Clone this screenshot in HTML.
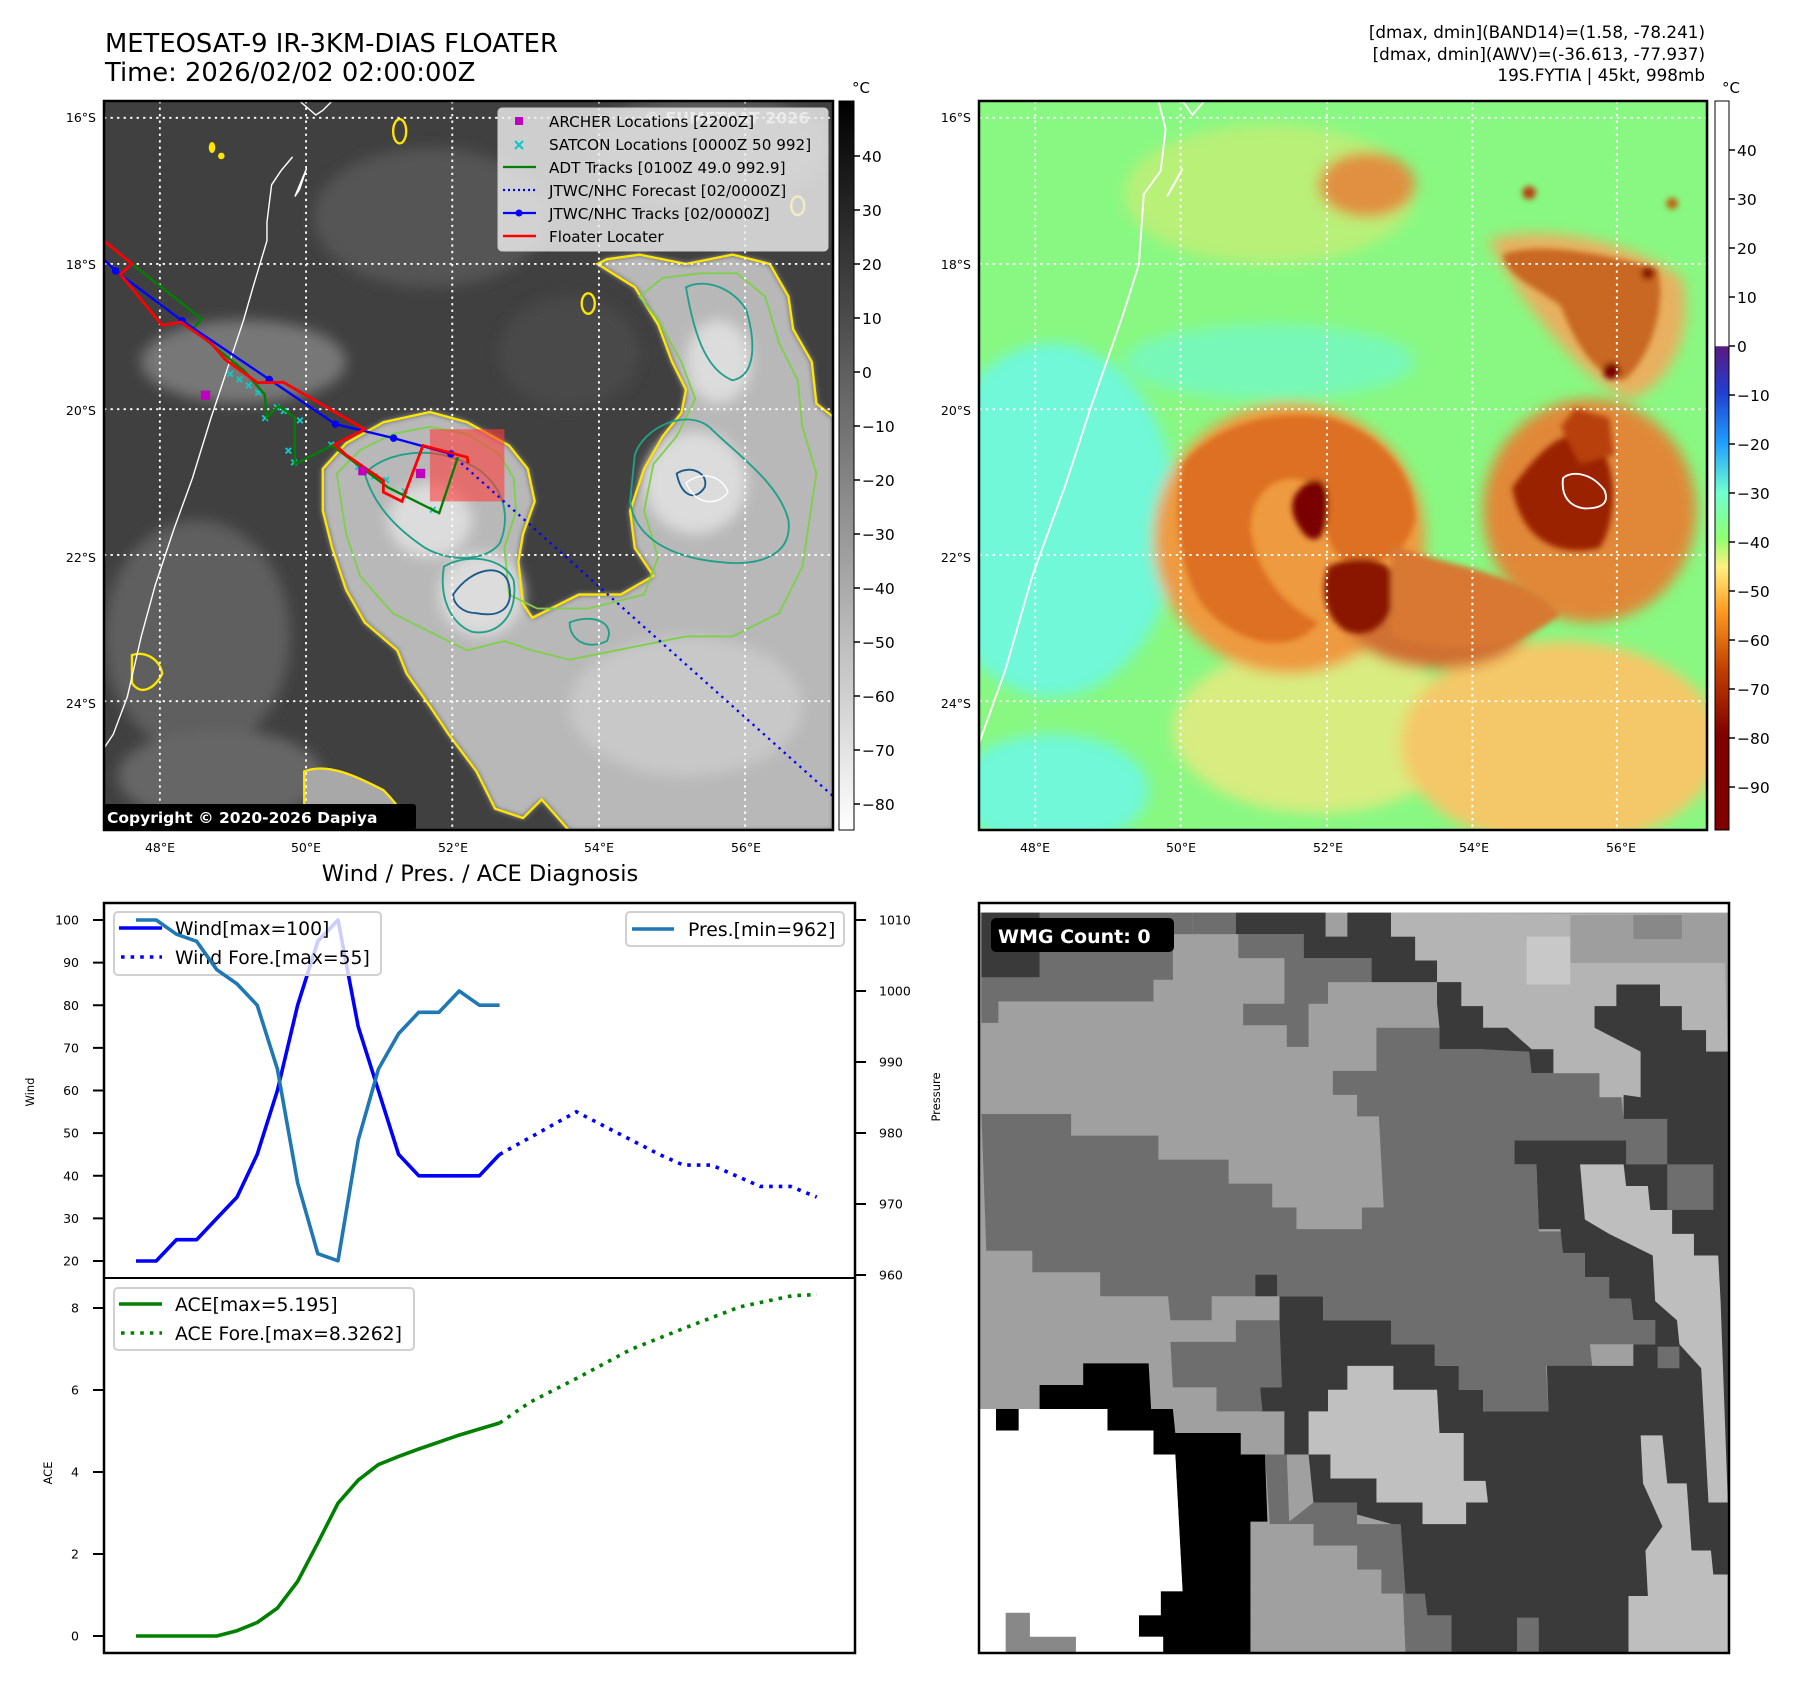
<!DOCTYPE html>
<html><head><meta charset="utf-8"><style>
html,body{margin:0;padding:0;background:#fff;}
svg{display:block;font-family:"DejaVu Sans","Liberation Sans",sans-serif;}
</style></head><body>
<svg id="root" width="1797" height="1690" viewBox="0 0 1797 1690" xmlns="http://www.w3.org/2000/svg">
<defs>
  <clipPath id="c1"><rect x="0" y="0" width="1568" height="1568"/></clipPath>
  <clipPath id="c2"><rect x="0" y="0" width="1505" height="1568"/></clipPath>
  <clipPath id="c3"><rect x="0" y="0" width="1548" height="1565"/></clipPath>
  <filter id="bl" x="-20%" y="-20%" width="140%" height="140%"><feGaussianBlur stdDeviation="14"/></filter>
  <filter id="bl2" x="-20%" y="-20%" width="140%" height="140%"><feGaussianBlur stdDeviation="6"/></filter>
  <linearGradient id="cb1" x1="0" y1="0" x2="0" y2="1">
    <stop offset="0" stop-color="#000"/><stop offset="1" stop-color="#fff"/>
  </linearGradient>
  <linearGradient id="cb2" x1="0" y1="0" x2="0" y2="1">
    <stop offset="0" stop-color="#fff"/><stop offset="0.336" stop-color="#fff"/>
    <stop offset="0.337" stop-color="#5a1a80"/><stop offset="0.40" stop-color="#2040d0"/>
    <stop offset="0.47" stop-color="#20a0ff"/><stop offset="0.537" stop-color="#70ffd0"/>
    <stop offset="0.60" stop-color="#90ff70"/><stop offset="0.64" stop-color="#fff080"/>
    <stop offset="0.70" stop-color="#ff9a20"/><stop offset="0.78" stop-color="#c04000"/>
    <stop offset="0.87" stop-color="#800000"/><stop offset="1" stop-color="#800000"/>
  </linearGradient>
</defs>

<!-- Titles -->
<text x="105" y="52" font-size="25.8" fill="#000">METEOSAT-9 IR-3KM-DIAS FLOATER</text>
<text x="105" y="81" font-size="25.8" fill="#000">Time: 2026/02/02 02:00:00Z</text>
<g font-size="16.8" text-anchor="end" fill="#000">
  <text x="1705" y="38">[dmax, dmin](BAND14)=(1.58, -78.241)</text>
  <text x="1705" y="60">[dmax, dmin](AWV)=(-36.613, -77.937)</text>
  <text x="1705" y="81">19S.FYTIA | 45kt, 998mb</text>
</g>

<!-- MAP 1 -->
<g transform="translate(104,101) scale(0.4656)">
 <g clip-path="url(#c1)">
  <rect x="0" y="0" width="1568" height="1568" fill="#404040"/>
  <g filter="url(#bl)">
    <ellipse cx="300" cy="560" rx="220" ry="90" fill="#777"/>
    <ellipse cx="200" cy="1150" rx="200" ry="250" fill="#5e5e5e"/>
    <ellipse cx="700" cy="250" rx="250" ry="150" fill="#555"/>
    <ellipse cx="1300" cy="100" rx="250" ry="120" fill="#595959"/>
    <ellipse cx="1000" cy="540" rx="150" ry="120" fill="#4a4a4a"/>
    <ellipse cx="250" cy="1450" rx="220" ry="100" fill="#666"/>
  </g>
  <polygon fill="#b8b8b8" filter="url(#bl2)" points="470,790 520,735 600,690 700,668 780,690 870,740 910,790 925,860 900,930 890,990 900,1080 920,1110 1020,1060 1110,1060 1180,1020 1140,960 1130,880 1160,790 1200,720 1240,670 1250,620 1220,560 1190,480 1140,400 1060,350 1080,340 1150,330 1250,350 1350,330 1430,350 1470,420 1480,490 1520,560 1530,650 1568,680 1568,1568 1000,1568 940,1500 900,1540 840,1520 800,1440 740,1360 700,1300 650,1230 630,1180 560,1120 520,1050 490,960 470,880"/>
  <g filter="url(#bl)" fill="#dcdcdc">
    <ellipse cx="700" cy="900" rx="90" ry="80"/>
    <ellipse cx="810" cy="1060" rx="90" ry="90"/>
    <ellipse cx="1270" cy="820" rx="110" ry="110"/>
    <ellipse cx="1320" cy="560" rx="70" ry="90"/>
    <ellipse cx="1250" cy="1300" rx="250" ry="150" fill="#c8c8c8"/>
  </g>
  <polygon fill="none" stroke="#ffe600" stroke-width="5" points="470,790 520,735 600,690 700,668 780,690 870,740 910,790 925,860 900,930 890,990 900,1080 920,1110 1020,1060 1110,1060 1180,1020 1140,960 1130,880 1160,790 1200,720 1240,670 1250,620 1220,560 1190,480 1140,400 1060,350 1080,340 1150,330 1250,350 1350,330 1430,350 1470,420 1480,490 1520,560 1530,650 1568,680 1568,1568 1000,1568 940,1500 900,1540 840,1520 800,1440 740,1360 700,1300 650,1230 630,1180 560,1120 520,1050 490,960 470,880"/>
  <polygon fill="none" stroke="#7ed04a" stroke-width="4" points="500,800 550,750 620,715 700,700 780,715 850,760 880,810 885,880 860,960 870,1060 930,1090 1040,1090 1160,1060 1190,980 1160,880 1180,780 1230,720 1270,640 1240,560 1190,470 1150,420 1200,380 1280,370 1360,370 1420,420 1450,520 1490,600 1500,700 1530,800 1500,1000 1450,1100 1350,1150 1250,1150 1100,1180 1000,1200 920,1180 860,1160 780,1180 700,1140 620,1100 550,1020 520,930"/>
  <g fill="none" stroke="#20a088" stroke-width="4">
    <path d="M560,800 C600,760 680,740 760,770 C850,800 880,880 850,950 C820,990 740,990 690,960 C630,920 580,870 560,800 Z"/>
    <path d="M1140,760 C1160,700 1250,660 1300,700 C1360,760 1450,820 1470,900 C1480,980 1400,1000 1320,990 C1220,980 1140,940 1130,860 Z"/>
    <path d="M730,1000 C780,970 860,980 880,1030 C890,1100 850,1150 790,1140 C740,1120 720,1060 730,1000 Z"/>
    <path d="M1250,400 C1290,380 1350,400 1380,450 C1400,520 1400,590 1350,600 C1300,580 1270,520 1250,400 Z"/>
    <path d="M1000,1120 C1050,1100 1100,1120 1080,1160 C1040,1180 1000,1160 1000,1120 Z"/>
  </g>
  <g fill="none" stroke="#1a5a8a" stroke-width="4">
    <path d="M750,1060 C790,1000 860,990 870,1040 C880,1090 850,1110 800,1100 C770,1100 750,1080 750,1060 Z"/>
    <path d="M1230,800 C1260,780 1300,800 1290,830 C1270,860 1240,850 1230,800 Z"/>
  </g>
  <path d="M1250,820 C1290,790 1330,810 1340,840 C1320,870 1270,870 1250,820 Z" fill="none" stroke="#fff" stroke-width="3"/>
  <g fill="#ffe600">
    <ellipse cx="232" cy="100" rx="7" ry="12"/><ellipse cx="252" cy="118" rx="7" ry="7"/>
    <ellipse cx="635" cy="65" rx="14" ry="26" fill="none" stroke="#ffe600" stroke-width="5"/>
    <ellipse cx="1040" cy="435" rx="14" ry="22" fill="none" stroke="#ffe600" stroke-width="5"/>
    <ellipse cx="1490" cy="225" rx="14" ry="20" fill="none" stroke="#ffe600" stroke-width="5"/>
  </g>
  <path d="M430,1440 C480,1420 540,1450 600,1480 C640,1520 660,1560 660,1568 L430,1568 Z" fill="#a8a8a8" stroke="#ffe600" stroke-width="5"/>
  <path d="M60,1190 C90,1180 120,1200 125,1230 C110,1260 80,1280 60,1250 Z" fill="none" stroke="#ffe600" stroke-width="5"/>
  <path d="M490,0 L470,20 L455,30 L420,0 M405,120 L380,150 L360,180 L350,260 L350,300 L320,400 L300,470 L260,590 L230,680 L190,810 L150,920 L110,1040 L80,1150 L50,1280 L20,1360 L0,1390" fill="none" stroke="#fff" stroke-width="3"/>
  <path d="M435,145 L410,205 L420,190 Z" fill="none" stroke="#fff" stroke-width="3"/>
  <g stroke="#fff" stroke-width="4" stroke-dasharray="5 9">
    <line x1="120" y1="0" x2="120" y2="1568"/><line x1="434" y1="0" x2="434" y2="1568"/>
    <line x1="748" y1="0" x2="748" y2="1568"/><line x1="1063" y1="0" x2="1063" y2="1568"/>
    <line x1="1377" y1="0" x2="1377" y2="1568"/>
    <line x1="0" y1="36" x2="1568" y2="36"/><line x1="0" y1="350" x2="1568" y2="350"/>
    <line x1="0" y1="662" x2="1568" y2="662"/><line x1="0" y1="975" x2="1568" y2="975"/>
    <line x1="0" y1="1289" x2="1568" y2="1289"/>
  </g>
  <rect x="700" y="705" width="160" height="155" fill="rgba(255,60,60,0.6)"/>
  <polyline points="745,758 1568,1495" fill="none" stroke="#0000ff" stroke-width="5" stroke-dasharray="5 10"/>
  <g stroke="#10c8c8" stroke-width="4">
    <path d="M265,580 l12,12 m0,-12 l-12,12 M285,592 l12,12 m0,-12 l-12,12 M305,605 l12,12 m0,-12 l-12,12 M325,620 l12,12 m0,-12 l-12,12 M340,675 l12,12 m0,-12 l-12,12 M365,652 l12,12 m0,-12 l-12,12 M380,660 l12,12 m0,-12 l-12,12 M415,680 l12,12 m0,-12 l-12,12 M390,745 l12,12 m0,-12 l-12,12 M402,770 l12,12 m0,-12 l-12,12 M482,732 l12,12 m0,-12 l-12,12 M540,780 l12,12 m0,-12 l-12,12 M575,800 l12,12 m0,-12 l-12,12 M600,808 l12,12 m0,-12 l-12,12 M640,832 l12,12 m0,-12 l-12,12 M700,872 l12,12 m0,-12 l-12,12"/>
  </g>
  <polyline points="35,372 60,350 210,468 190,490 300,578 345,630 350,680 375,655 410,680 410,780 490,740 610,830 720,885 760,765" fill="none" stroke="#008000" stroke-width="5"/>
  <polyline points="0,340 25,365 168,472 355,598 497,694 622,724 745,758" fill="none" stroke="#0000ff" stroke-width="5"/>
  <g fill="#0000ff"><circle cx="25" cy="365" r="8"/><circle cx="168" cy="472" r="8"/><circle cx="355" cy="598" r="8"/><circle cx="497" cy="694" r="8"/><circle cx="622" cy="724" r="8"/><circle cx="745" cy="758" r="8"/></g>
  <polyline points="0,300 60,350 35,372 125,482 165,475 230,520 260,555 330,605 385,604 560,705 495,738 520,760 600,815 600,840 640,860 685,740 780,765 782,778" fill="none" stroke="#ff0000" stroke-width="6"/>
  <g fill="#c000c0"><rect x="208" y="622" width="20" height="20"/><rect x="546" y="786" width="18" height="18"/><rect x="670" y="790" width="20" height="20"/></g>
  <text x="1160" y="48" font-size="34" font-weight="bold" fill="rgba(255,255,255,0.75)">© EUMETSAT 2026</text>
 </g>
</g>
<rect x="104" y="101" width="729" height="729" fill="none" stroke="#000" stroke-width="2.5"/>

<g>
  <rect x="498" y="108" width="330" height="143" rx="4" fill="rgba(238,238,238,0.82)" stroke="#ccc" stroke-width="1"/>
  <rect x="515" y="117" width="8" height="8" fill="#c000c0"/>
  <path d="M515,141 l8,8 m0,-8 l-8,8" stroke="#10c8c8" stroke-width="2.2"/>
  <line x1="503" y1="167" x2="536" y2="167" stroke="#008000" stroke-width="2.2"/>
  <line x1="503" y1="190" x2="536" y2="190" stroke="#0000ff" stroke-width="2.2" stroke-dasharray="2 3"/>
  <line x1="503" y1="213" x2="536" y2="213" stroke="#0000ff" stroke-width="2.2"/><circle cx="519" cy="213" r="3.5" fill="#0000ff"/>
  <line x1="503" y1="236" x2="536" y2="236" stroke="#ff0000" stroke-width="2.5"/>
  <g font-size="15.2" fill="#000">
    <text x="549" y="127">ARCHER Locations [2200Z]</text>
    <text x="549" y="150">SATCON Locations [0000Z 50 992]</text>
    <text x="549" y="173">ADT Tracks [0100Z 49.0 992.9]</text>
    <text x="549" y="196">JTWC/NHC Forecast [02/0000Z]</text>
    <text x="549" y="219">JTWC/NHC Tracks [02/0000Z]</text>
    <text x="549" y="242">Floater Locater</text>
  </g>
</g>
<rect x="104" y="804" width="312" height="26" rx="3" fill="#000"/>
<text x="107" y="823" font-size="15.5" font-weight="bold" fill="#fff">Copyright © 2020-2026 Dapiya</text>

<g font-size="12.5" fill="#000">
  <g text-anchor="end">
    <text x="96" y="122">16°S</text><text x="96" y="269">18°S</text><text x="96" y="415">20°S</text><text x="96" y="562">22°S</text><text x="96" y="708">24°S</text>
    <text x="971" y="122">16°S</text><text x="971" y="269">18°S</text><text x="971" y="415">20°S</text><text x="971" y="562">22°S</text><text x="971" y="708">24°S</text>
  </g>
  <g text-anchor="middle">
    <text x="160" y="852">48°E</text><text x="306" y="852">50°E</text><text x="453" y="852">52°E</text><text x="599" y="852">54°E</text><text x="746" y="852">56°E</text>
    <text x="1035" y="852">48°E</text><text x="1181" y="852">50°E</text><text x="1328" y="852">52°E</text><text x="1474" y="852">54°E</text><text x="1621" y="852">56°E</text>
  </g>
</g>

<rect x="839" y="101" width="15" height="729" fill="url(#cb1)" stroke="#000" stroke-width="1"/>
<text x="852" y="93" font-size="15">°C</text>
<g id="cb1ticks" font-size="15.5"></g>

<!-- MAP 2 -->
<g transform="translate(979,101) scale(0.4847,0.4656)">
 <g clip-path="url(#c2)">
  <rect x="0" y="0" width="1505" height="1568" fill="#88f882"/>
  <g filter="url(#bl)">
    <ellipse cx="150" cy="900" rx="260" ry="380" fill="#6ff8d8"/>
    <ellipse cx="600" cy="560" rx="300" ry="80" fill="#78f8b8"/>
    <ellipse cx="150" cy="1480" rx="200" ry="120" fill="#6ff8d8"/>
    <ellipse cx="600" cy="200" rx="300" ry="150" fill="#b8f078"/>
    <ellipse cx="700" cy="1350" rx="300" ry="180" fill="#d8ec80"/>
    <ellipse cx="1200" cy="1380" rx="330" ry="220" fill="#f4c868"/>
    <ellipse cx="640" cy="940" rx="280" ry="290" fill="#ee9a40"/>
    <path d="M1050,300 C1150,260 1350,300 1450,380 C1480,500 1420,620 1340,640 C1250,600 1180,500 1120,420 Z" fill="#e8b060"/>
    <ellipse cx="1260" cy="880" rx="220" ry="240" fill="#e08838"/>
    <ellipse cx="800" cy="180" rx="100" ry="70" fill="#e09040"/>
    <ellipse cx="950" cy="1130" rx="180" ry="90" fill="#d07030"/>
  </g>
  <g filter="url(#bl2)">
    <path d="M420,780 C480,700 600,660 720,680 C830,710 900,800 900,900 C880,980 820,1000 760,990 C700,960 720,860 680,820 C620,790 560,840 560,920 C570,1000 620,1080 700,1120 C640,1200 520,1160 460,1080 C410,1000 400,880 420,780 Z" fill="#dd7020"/>
    <path d="M650,850 C680,800 720,800 720,860 C720,930 700,960 670,930 C650,900 640,880 650,850 Z" fill="#7a0000"/>
    <path d="M720,1000 C780,970 860,980 860,1040 C860,1100 820,1160 760,1140 C720,1120 700,1060 720,1000 Z" fill="#8a1800"/>
    <path d="M1100,830 C1150,760 1200,700 1260,720 C1320,760 1320,900 1280,960 C1200,980 1120,950 1100,830 Z" fill="#9a2000"/>
    <path d="M1200,700 L1230,660 L1300,680 L1310,760 L1240,780 Z" fill="#b84008"/>
    <path d="M1080,330 C1150,300 1300,330 1400,360 C1420,450 1380,560 1330,600 C1270,590 1230,520 1200,440 C1150,400 1090,380 1080,330 Z" fill="#c86820"/>
    <circle cx="1305" cy="580" r="18" fill="#7a0000"/><circle cx="1380" cy="370" r="14" fill="#8a1800"/>
    <circle cx="1135" cy="197" r="14" fill="#b84008"/><circle cx="1430" cy="220" r="12" fill="#c06010"/>
    <path d="M850,950 C950,1000 1100,1000 1200,1100 C1100,1200 950,1180 850,1150 Z" fill="#d87830"/>
  </g>
  <path d="M1205,810 C1220,795 1260,795 1290,835 C1300,860 1290,875 1250,875 C1220,872 1200,850 1205,810 Z" fill="none" stroke="#fff" stroke-width="4"/>
  <path d="M370,0 L385,60 L375,150 L340,200 L330,350 L300,450 L230,660 L180,820 L110,1020 L55,1220 L0,1380 M420,0 L440,30 L465,0 M420,145 L388,205 L410,165 Z" fill="none" stroke="#fff" stroke-width="4"/>
  <g stroke="#fff" stroke-width="4" stroke-dasharray="5 9">
    <line x1="116" y1="0" x2="116" y2="1568"/><line x1="416" y1="0" x2="416" y2="1568"/>
    <line x1="718" y1="0" x2="718" y2="1568"/><line x1="1018" y1="0" x2="1018" y2="1568"/>
    <line x1="1316" y1="0" x2="1316" y2="1568"/>
    <line x1="0" y1="36" x2="1505" y2="36"/><line x1="0" y1="350" x2="1505" y2="350"/>
    <line x1="0" y1="662" x2="1505" y2="662"/><line x1="0" y1="975" x2="1505" y2="975"/>
    <line x1="0" y1="1289" x2="1505" y2="1289"/>
  </g>
 </g>
</g>
<rect x="979" y="101" width="728" height="729" fill="none" stroke="#000" stroke-width="2.5"/>
<rect x="1715" y="101" width="14" height="729" fill="url(#cb2)" stroke="#000" stroke-width="1"/>
<text x="1722" y="93" font-size="15">°C</text>
<g id="cb2ticks" font-size="15.5"></g>

<!-- MAP 3 WMG -->
<g transform="translate(979,903) scale(0.4847,0.4796)">
 <g clip-path="url(#c3)">
  <rect x="0" y="0" width="1548" height="1565" fill="#a0a0a0"/>
  <rect x="0" y="0" width="1548" height="20" fill="#fff"/>
  <polygon fill="#6e6e6e" points="125,20 440,20 440,65 400,65 400,160 360,160 360,205 40,205 40,250 5,250 5,155 125,155"/>
  <rect x="5" y="20" width="120" height="135" fill="#3a3a3a"/>
  <polygon fill="#6e6e6e" points="440,20 530,20 530,65 670,65 670,115 810,115 810,165 720,165 720,210 680,210 680,300 635,300 635,255 545,255 545,210 630,210 630,115 535,115 535,65 440,65"/>
  <polygon fill="#3a3a3a" points="530,20 715,20 715,70 760,70 760,20 850,20 850,70 900,70 900,120 945,120 945,165 860,165 810,165 810,115 670,115 670,65 530,65"/>
  <polygon fill="#b4b4b4" points="850,20 1535,25 1545,310 1500,310 1450,260 1450,215 1405,215 1405,170 1315,170 1315,215 1270,215 1270,260 1365,310 1365,405 1280,405 1280,355 1185,355 1185,305 1140,305 1090,260 1040,260 1040,215 995,215 995,165 945,165 945,120 900,120 900,70 850,70"/>
  <rect x="1220" y="25" width="320" height="100" fill="#9e9e9e"/>
  <rect x="1350" y="25" width="100" height="50" fill="#888"/>
  <rect x="1130" y="70" width="90" height="100" fill="#c8c8c8"/>
  <polygon fill="#3a3a3a" points="1100,495 1330,495 1330,400 1365,405 1365,310 1270,260 1270,215 1315,215 1315,170 1405,170 1405,215 1450,215 1450,265 1500,265 1500,310 1545,310 1545,1565 870,1565 870,1300 690,1250 680,1150 630,1150 630,1060 580,1060 580,1010 620,1010 620,820 710,820 710,870 850,870 850,920 940,920 945,965 990,965 990,1015 1040,1015 1040,1060 1175,1060 1170,920 1260,920 1265,965 1350,965 1350,920 1395,920 1395,870 1350,870 1345,825 1300,825 1300,780 1250,780 1250,730 1200,730 1200,680 1155,680 1150,545 1100,545"/>
  <polygon fill="#3a3a3a" points="945,165 995,165 995,215 1040,215 1040,260 1090,260 1140,305 1185,305 1185,355 1140,355 1090,310 1040,305 950,305 950,260 945,210"/>
  <polygon fill="#6e6e6e" points="5,440 190,440 190,485 370,485 370,535 515,535 515,585 605,585 605,635 655,635 655,680 790,680 790,635 835,635 825,445 780,445 780,400 730,400 730,350 820,350 820,260 950,260 950,305 1040,305 1135,310 1140,355 1280,355 1280,405 1325,405 1330,450 1420,450 1420,545 1335,545 1335,495 1105,495 1105,545 1150,545 1155,685 1200,685 1205,730 1250,730 1250,780 1300,780 1300,825 1345,825 1350,870 1395,870 1395,920 1260,920 1265,965 1170,965 1175,1060 1040,1060 1040,1015 990,1015 990,965 940,965 940,920 850,920 850,870 710,870 710,820 615,820 615,775 570,775 570,820 480,820 480,870 395,870 390,820 250,820 250,770 110,770 110,725 15,725"/>
  <rect x="570" y="775" width="45" height="45" fill="#3a3a3a"/>
  <polygon fill="#6e6e6e" points="395,915 530,915 530,870 620,870 625,1010 580,1010 585,1060 490,1060 490,1010 400,1010"/>
  <polygon fill="#bebebe" points="1240,545 1330,545 1335,590 1380,590 1385,640 1430,640 1430,690 1475,690 1475,735 1525,735 1530,830 1545,1250 1505,1250 1490,970 1445,920 1440,870 1395,830 1390,735 1300,690 1250,660"/>
  <rect x="1420" y="545" width="95" height="95" fill="#6e6e6e"/>
  <polygon fill="#bebebe" points="1365,1110 1410,1110 1420,1210 1460,1210 1470,1350 1510,1350 1515,1400 1545,1400 1545,1565 1340,1565 1340,1445 1380,1445 1375,1350 1410,1300 1370,1210"/>
  <polygon fill="#6e6e6e" points="590,1150 635,1150 640,1290 690,1250 780,1250 780,1295 870,1295 880,1440 920,1440 925,1485 975,1485 975,1565 880,1565 875,1440 830,1440 830,1390 780,1390 780,1340 690,1340 690,1295 600,1295"/>
  <polygon fill="#a0a0a0" points="505,1295 690,1295 690,1340 780,1340 780,1390 830,1390 830,1440 875,1440 880,1565 560,1565 510,1565"/>
  <polygon fill="#000" points="215,960 350,960 355,1055 400,1055 405,1105 540,1105 540,1150 590,1150 595,1290 560,1290 560,1565 380,1565 375,1530 330,1530 330,1485 375,1485 375,1435 420,1435 405,1150 360,1150 360,1100 265,1100 265,1055 125,1055 125,1005 215,1005"/>
  <rect x="35" y="1055" width="47" height="45" fill="#000"/>
  <polygon fill="#fff" points="0,1055 35,1055 35,1100 82,1100 82,1055 265,1055 265,1100 360,1100 360,1150 405,1150 420,1435 375,1435 375,1485 330,1485 330,1530 380,1530 380,1565 0,1565"/>
  <polygon fill="#888" points="55,1480 105,1480 105,1530 200,1530 200,1565 55,1565"/>
  <polygon fill="#c0c0c0" points="760,965 855,965 855,1015 945,1015 950,1105 1000,1105 1000,1205 1045,1205 1050,1250 1005,1250 1005,1295 915,1295 915,1250 820,1250 820,1200 725,1200 725,1150 680,1150 680,1060 720,1060 720,1015 760,1015"/>
  <rect x="1110" y="1490" width="45" height="75" fill="#6e6e6e"/>
  <rect x="1400" y="925" width="45" height="45" fill="#6e6e6e"/>
 </g>
</g>
<rect x="979" y="903" width="750" height="750" fill="none" stroke="#000" stroke-width="2.5"/>
<rect x="991" y="918" width="183" height="34" rx="5" fill="#000"/>
<text x="998" y="943" font-size="19" font-weight="bold" fill="#fff">WMG Count: 0</text>

<text x="480" y="881" font-size="22.5" text-anchor="middle">Wind / Pres. / ACE Diagnosis</text>
<g id="chart"></g>
</svg>
<script>
// ---- chart data ----
const obsIdx = [0,1,2,3,4,5,6,7,8,9,10,11,12,13,14,15,16,17,18];
const windObs = [20,20,25,25,30,35,45,60,80,95,100,75,60,45,40,40,40,40,45];
const presObs = [1010,1010,1008,1007,1003,1001,998,989,973,963,962,979,989,994,997,997,1000,998,998];
const aceObs = [0,0,0,0,0,0.13,0.33,0.68,1.33,2.27,3.24,3.8,4.18,4.38,4.56,4.73,4.9,5.05,5.195];
const windForeIdx = [18,21.8,25.9,27.1,28.5,30.9,32.4,33.7];
const windFore = [45,55,45,42.5,42.5,37.5,37.5,35];
const aceForeIdx = [18,19.5,21.8,24.5,27.1,29.9,32.5,33.7];
const aceFore = [5.195,5.7,6.28,6.99,7.5,8.03,8.3,8.3262];
const windTicks = [20,30,40,50,60,70,80,90,100];
const presTicks = [960,970,980,990,1000,1010];
const aceTicks = [0,2,4,6,8];
const cb1Ticks = [40,30,20,10,0,-10,-20,-30,-40,-50,-60,-70,-80];
const cb2Ticks = [40,30,20,10,0,-10,-20,-30,-40,-50,-60,-70,-80,-90];

const NS = 'http://www.w3.org/2000/svg';
function mk(tag, attrs, parent){const e=document.createElementNS(NS,tag);for(const k in attrs)e.setAttribute(k,attrs[k]);parent.appendChild(e);return e;}
const xS = i => 136 + i*20.2;
const yW = v => 920 + (100-v)*4.2625;
const yP = p => 920 + (1010-p)*7.1;
const yA = v => 1636 - v*41;
const fmtMinus = v => (v<0?'\u2212'+(-v):''+v);

const cb1 = document.getElementById('cb1ticks');
cb1Ticks.forEach(v=>{const y=156+(40-v)*5.4;
  const l=mk('line',{x1:854,y1:y,x2:860,y2:y,stroke:'#000','stroke-width':1.5},cb1);
  
  
  const t=mk('text',{x:862,y:y+6},cb1);t.textContent=fmtMinus(v);
  
  });
const cb2 = document.getElementById('cb2ticks');
cb2Ticks.forEach(v=>{const y=150+(40-v)*4.9;
  const l=mk('line',{x1:1729,y1:y,x2:1735,y2:y,stroke:'#000','stroke-width':1.5},cb2);
  
  
  const t=mk('text',{x:1737,y:y+6},cb2);t.textContent=fmtMinus(v);
  
  });

const g = document.getElementById('chart');
function pts(xs, ys, fy){return xs.map((x,i)=>xS(x).toFixed(1)+','+fy(ys[i]).toFixed(1)).join(' ');}

let e;
e=mk('polyline',{points:pts(obsIdx,windObs,yW),fill:'none',stroke:'#0000ff','stroke-width':3.6,'stroke-linejoin':'round'},g);


e=mk('polyline',{points:pts(windForeIdx,windFore,yW),fill:'none',stroke:'#0000ff','stroke-width':3.6,'stroke-dasharray':'3.6 6'},g);


e=mk('rect',{x:114,y:912,width:267,height:63,rx:4,fill:'rgba(255,255,255,0.8)',stroke:'#d0d0d0','stroke-width':2},g);


mk('line',{x1:119,y1:928,x2:162,y2:928,stroke:'#0000ff','stroke-width':3.6},g);
mk('line',{x1:121,y1:957,x2:162,y2:957,stroke:'#0000ff','stroke-width':3.6,'stroke-dasharray':'3.6 6'},g);
e=mk('text',{x:175,y:935,'font-size':18.8},g);e.textContent='Wind[max=100]';
e=mk('text',{x:175,y:964,'font-size':18.8},g);e.textContent='Wind Fore.[max=55]';
e=mk('polyline',{points:pts(obsIdx,presObs,yP),fill:'none',stroke:'#1f77b4','stroke-width':3.6,'stroke-linejoin':'round'},g);


e=mk('rect',{x:626,y:912,width:218,height:34,rx:4,fill:'rgba(255,255,255,0.8)',stroke:'#d0d0d0','stroke-width':2},g);


mk('line',{x1:632,y1:929,x2:674,y2:929,stroke:'#1f77b4','stroke-width':3.6},g);
e=mk('text',{x:688,y:936,'font-size':18.8},g);e.textContent='Pres.[min=962]';
e=mk('polyline',{points:pts(obsIdx,aceObs,yA),fill:'none',stroke:'#008000','stroke-width':3.6,'stroke-linejoin':'round'},g);


e=mk('polyline',{points:pts(aceForeIdx,aceFore,yA),fill:'none',stroke:'#008000','stroke-width':3.6,'stroke-dasharray':'3.6 6'},g);


e=mk('rect',{x:114,y:1288,width:300,height:62,rx:4,fill:'rgba(255,255,255,0.8)',stroke:'#d0d0d0','stroke-width':2},g);


mk('line',{x1:119,y1:1304,x2:162,y2:1304,stroke:'#008000','stroke-width':3.6},g);
mk('line',{x1:121,y1:1333,x2:162,y2:1333,stroke:'#008000','stroke-width':3.6,'stroke-dasharray':'3.6 6'},g);
e=mk('text',{x:175,y:1311,'font-size':18.8},g);e.textContent='ACE[max=5.195]';
e=mk('text',{x:175,y:1340,'font-size':18.8},g);e.textContent='ACE Fore.[max=8.3262]';

e=mk('rect',{x:104,y:903,width:751,height:750,fill:'none',stroke:'#000','stroke-width':2.5},g);


mk('line',{x1:104,y1:1278,x2:855,y2:1278,stroke:'#000','stroke-width':2},g);

windTicks.forEach(v=>{const y=yW(v);
  mk('line',{x1:93,y1:y,x2:104,y2:y,stroke:'#000','stroke-width':2},g);
  const t=mk('text',{x:79,y:y+4.5,'font-size':12.5,'text-anchor':'end'},g);t.textContent=v;
  
  });
presTicks.forEach(v=>{const y=yP(v);
  mk('line',{x1:855,y1:y,x2:866,y2:y,stroke:'#000','stroke-width':2},g);
  const t=mk('text',{x:879,y:y+4.5,'font-size':12.5},g);t.textContent=v;
  
  });
aceTicks.forEach(v=>{const y=yA(v);
  mk('line',{x1:93,y1:y,x2:104,y2:y,stroke:'#000','stroke-width':2},g);
  const t=mk('text',{x:79,y:y+4.5,'font-size':12.5,'text-anchor':'end'},g);t.textContent=v;
  
  });
e=mk('text',{x:0,y:0,'font-size':11.5,'text-anchor':'middle',transform:'translate(34,1092) rotate(-90)'},g);e.textContent='Wind';


e=mk('text',{x:0,y:0,'font-size':11.5,'text-anchor':'middle',transform:'translate(940,1097) rotate(-90)'},g);e.textContent='Pressure';


e=mk('text',{x:0,y:0,'font-size':11.5,'text-anchor':'middle',transform:'translate(52,1473) rotate(-90)'},g);e.textContent='ACE';


</script>
</body></html>
